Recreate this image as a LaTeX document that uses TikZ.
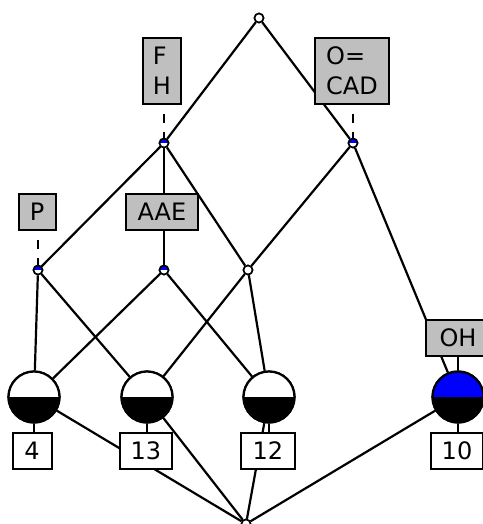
\documentclass[tikz,border=0pt]{standalone}
\usepackage{fontspec}
\setmainfont{DejaVu Sans}
\begin{document}
\begin{tikzpicture}[x=1pt,y=-1pt,
  edge/.style={line width=2.2pt},
  dashconn/.style={line width=2.2pt,dash pattern=on 9pt off 9pt,dash phase=9pt},
  small/.style={circle,draw,line width=1.6pt,inner sep=0pt,minimum size=9pt,fill=white},
  halfblue/.style={small,path picture={\fill[blue] (path picture bounding box.north west) rectangle (path picture bounding box.east);}},
  big/.style={circle,draw,line width=2.2pt,inner sep=0pt,minimum size=51pt,fill=#1,
    path picture={\fill[black] (path picture bounding box.west) rectangle (path picture bounding box.south east);}},
  lbl/.style={draw,line width=2pt,fill=gray!50,inner sep=0pt,minimum height=36pt,font=\fontsize{24}{30}\selectfont},
  num/.style={draw,line width=2pt,fill=white,inner sep=0pt,minimum height=36pt,font=\fontsize{24}{30}\selectfont}]
\useasboundingbox (0,0) rectangle (482,524);
% lattice nodes
\node[small] (T) at (259,18) {};
\node[halfblue] (A) at (164,143) {};
\node[halfblue] (B) at (353,143) {};
\node[halfblue] (C) at (38,270) {};
\node[halfblue] (D) at (164,270) {};
\node[small] (E) at (248,270) {};
\node[small] (Z) at (246,524) {};
\node[big=white] (G4) at (34,397) {};
\node[big=white] (G13) at (147,397) {};
\node[big=white] (G12) at (269,397) {};
\node[big=blue] (G10) at (458,397) {};
% edges
\draw[edge] (T) -- (A);
\draw[edge] (T) -- (B);
\draw[edge] (A) -- (C);
\draw[edge] (A) -- (D);
\draw[edge] (A) -- (E);
\draw[edge] (B) -- (E);
\draw[edge] (B) -- (G10);
\draw[edge] (C) -- (G4);
\draw[edge] (C) -- (G13);
\draw[edge] (D) -- (G4);
\draw[edge] (D) -- (G12);
\draw[edge] (E) -- (G13);
\draw[edge] (E) -- (G12);
\draw[edge] (G4) -- (Z);
\draw[edge] (G13) -- (Z);
\draw[edge] (G12) -- (Z);
\draw[edge] (G10) -- (Z);
% redraw nodes on top
\node[small] at (T) {};
\node[halfblue] at (A) {};
\node[halfblue] at (B) {};
\node[halfblue] at (C) {};
\node[halfblue] at (D) {};
\node[small] at (E) {};
\node[small] at (Z) {};
\node[big=white] at (G4) {};
\node[big=white] at (G13) {};
\node[big=white] at (G12) {};
\node[big=blue] at (G10) {};
% labels
\node[lbl,minimum width=38pt,minimum height=66pt,align=left] (LFH) at (162,71) {F\\H};
\node[lbl,minimum width=74pt,minimum height=66pt,align=left] (LOC) at (352,71) {O=\\CAD};
\node[lbl,minimum width=37pt] (LP) at (37,212) {P};
\node[lbl,minimum width=72pt] (LAAE) at (162,212) {AAE};
\node[lbl,minimum width=64pt] (LOH) at (458,338) {OH};
\node[num,minimum width=39pt] (N4) at (32,451) {4};
\node[num,minimum width=52pt] (N13) at (146,451) {13};
\node[num,minimum width=54pt] (N12) at (268,451) {12};
\node[num,minimum width=52pt] (N10) at (457,451) {10};
% label connectors
\draw[dashconn] (A.north |- LFH.south) -- (A.north);
\draw[dashconn] (B.north |- LOC.south) -- (B.north);
\draw[dashconn] (C.north |- LP.south) -- (C.north);
\draw[edge] (G10.north |- LOH.south) -- (G10.north);
\draw[edge] (G4.south) -- (G4.south |- N4.north);
\draw[edge] (G13.south) -- (G13.south |- N13.north);
\draw[edge] (G12.south) -- (G12.south |- N12.north);
\draw[edge] (G10.south) -- (G10.south |- N10.north);
\end{tikzpicture}
\end{document}
